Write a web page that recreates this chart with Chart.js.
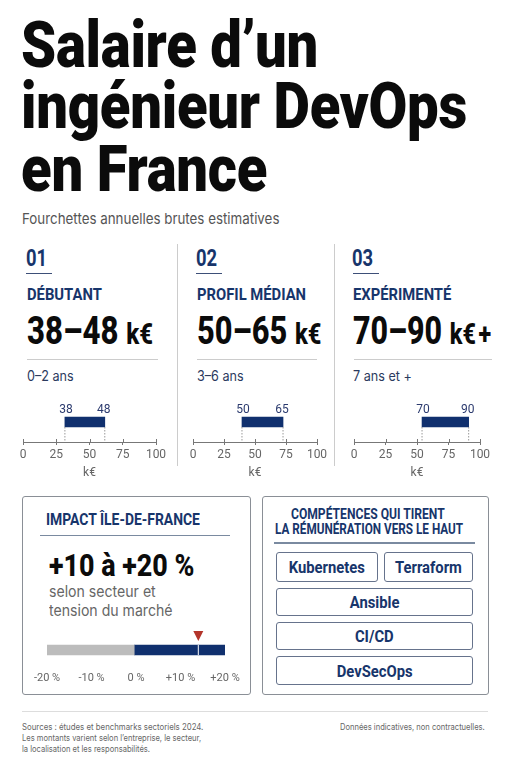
<!DOCTYPE html>
<html lang="fr">
<head>
<meta charset="utf-8">
<title>Salaire d'un ingénieur DevOps en France</title>
<script src="https://cdn.jsdelivr.net/npm/chart.js@4/dist/chart.umd.min.js"></script>
<style>
    html, body { margin: 0; padding: 0; background: #fff; }
    body { position: relative; width: 511px; height: 768px; overflow: hidden; font-family: Roboto, sans-serif; }
    .t { position: absolute; white-space: nowrap; transform-origin: left top; line-height: 1; }
    .titre { left: 21px; font-size: 64px; line-height: 58px; font-weight: 900; color: #0b0b0b; transform: scaleX(.879); letter-spacing: -.3px; }
    .sous { left: 22px; top: 211px; font-size: 15px; color: #555; font-family: Inter, Roboto, sans-serif; transform: scaleX(.89); }
    .num { font-size: 23px; font-weight: 700; color: #17356b; transform: scaleX(.8); }
    .niv { font-size: 17px; font-weight: 700; color: #17356b; transform: scaleX(.87); }
    .val { font-size: 39px; font-weight: 800; color: #0b0b0b; transform: scaleX(.8); }
    .val small { font-size: 30px; font-weight: 800; word-spacing: -4px; }
    .ans { font-size: 14px; color: #2b3a5e; font-family: Inter, Roboto, sans-serif; transform: scaleX(.9); }
    .trait { position: absolute; }
    .cadre { position: absolute; box-sizing: border-box; border: 1.5px solid #8a8f96; border-radius: 3px; top: 496px; height: 199px; }
    .pill { position: absolute; box-sizing: border-box; border: 1.5px solid #66738c; border-radius: 3px; display: flex; align-items: center; justify-content: center; }
    .pill span { font-size: 17px; font-weight: 700; color: #17356b; transform: scaleX(.87); white-space: nowrap; }
    .foot { font-size: 9px; color: #666; font-family: Inter, Roboto, sans-serif; transform: scaleX(.84); }
    .cap { font-size: 15.5px; color: #666; font-family: Inter, Roboto, sans-serif; transform: scaleX(.91); }
    canvas { position: absolute; }
</style>
</head>
<body>

<div class="t titre" style="top:17px">Salaire d’un</div>
<div class="t titre" style="top:78px">ingénieur DevOps</div>
<div class="t titre" style="top:141px">en France</div>
<div class="t sous">Fourchettes annuelles brutes estimatives</div>

<div class="trait" style="left:177px;top:244px;width:1px;height:222px;background:#ccc"></div>
<div class="trait" style="left:334px;top:244px;width:1px;height:222px;background:#ccc"></div>

<div class="t num" style="left:26px;top:247px">01</div>
<div class="trait" style="left:26px;top:273px;width:26px;height:1px;background:#3d4f78"></div>
<div class="t niv" style="left:27px;top:286px">DÉBUTANT</div>
<div class="t val" style="left:27px;top:312px">38–48 <small>k€</small></div>
<div class="trait" style="left:27px;top:359px;width:131px;height:1px;background:#ccc"></div>
<div class="t ans" style="left:27px;top:369px">0–2 ans</div>

<div class="t num" style="left:196px;top:247px">02</div>
<div class="trait" style="left:196px;top:273px;width:26px;height:1px;background:#3d4f78"></div>
<div class="t niv" style="left:197px;top:286px">PROFIL MÉDIAN</div>
<div class="t val" style="left:197px;top:312px;transform:scaleX(.79)">50–65 <small>k€</small></div>
<div class="trait" style="left:197px;top:359px;width:120px;height:1px;background:#ccc"></div>
<div class="t ans" style="left:197px;top:369px">3–6 ans</div>

<div class="t num" style="left:352px;top:247px">03</div>
<div class="trait" style="left:353px;top:273px;width:26px;height:1px;background:#3d4f78"></div>
<div class="t niv" style="left:353px;top:286px">EXPÉRIMENTÉ</div>
<div class="t val" style="left:353px;top:312px;transform:scaleX(.78)">70–90 <small>k€ +</small></div>
<div class="trait" style="left:354px;top:359px;width:138px;height:1px;background:#ccc"></div>
<div class="t ans" style="left:353px;top:369px">7 ans et +</div>

<canvas id="grafico1" width="163" height="78" style="left:8px;top:402px"></canvas>
<canvas id="grafico2" width="154" height="78" style="left:178px;top:402px"></canvas>
<canvas id="grafico3" width="156" height="78" style="left:339px;top:402px"></canvas>

<div class="cadre" style="left:22px;width:229px"></div>
<div class="t niv" style="left:46px;top:512px;font-size:16px">IMPACT ÎLE-DE-FRANCE</div>
<div class="trait" style="left:40px;top:535px;width:190px;height:1px;background:#7a8aa0"></div>
<div class="t val" style="left:49px;top:549px;font-size:32px;transform:scaleX(.84)">+10 à +20 %</div>
<div class="t cap" style="left:49px;top:584px">selon secteur et</div>
<div class="t cap" style="left:49px;top:603px">tension du marché</div>
<canvas id="graficoImpact" width="218" height="58" style="left:27px;top:625px"></canvas>

<div class="cadre" style="left:262px;width:227px"></div>
<div class="t niv" style="left:291px;top:508px;font-size:14.5px;line-height:14px;transform:scaleX(.835)">COMPÉTENCES QUI TIRENT</div>
<div class="t niv" style="left:275px;top:523px;font-size:14.5px;line-height:14px;transform:scaleX(.81)">LA RÉMUNÉRATION VERS LE HAUT</div>
<div class="trait" style="left:274px;top:542px;width:201px;height:2px;background:#7a8aa0"></div>
<div class="pill" style="left:276px;top:552px;width:102px;height:30px"><span>Kubernetes</span></div>
<div class="pill" style="left:384px;top:552px;width:89px;height:30px"><span>Terraform</span></div>
<div class="pill" style="left:276px;top:588px;width:197px;height:28px"><span>Ansible</span></div>
<div class="pill" style="left:276px;top:622px;width:197px;height:28px"><span>CI/CD</span></div>
<div class="pill" style="left:276px;top:656px;width:197px;height:29px"><span>DevSecOps</span></div>

<div class="trait" style="left:22px;top:711px;width:466px;height:1px;background:#ddd"></div>
<div class="t foot" style="left:22px;top:722px;transform:scaleX(.87)">Sources : études et benchmarks sectoriels 2024.</div>
<div class="t foot" style="left:22px;top:733px">Les montants varient selon l’entreprise, le secteur,</div>
<div class="t foot" style="left:22px;top:744px">la localisation et les responsabilités.</div>
<div class="t foot" style="left:340px;top:722px">Données indicatives, non contractuelles.</div>

<script>
// fourchettes affichées au-dessus des barres
const fourchettesDebut = [38, 50, 70];
const fourchettesFin = [48, 65, 90];

const barresDebut = [31.5, 39.5, 54];
const barresFin = [61.5, 72.6, 91];

const ticksSalaire = [0, 25, 50, 75, 100];
const uniteSalaire = "k€";

const impactCategorie = ["Impact"];
const impactNegatif = [-20, -0.4];
const impactPositif = [-0.4, 20];
const ticksImpact = [-20, -10, 0, 10, 20];
const impactMarqueur = 14;

const bleu = "#10306e";
const gris = "#666";
const policeAxe = "'Liberation Sans Narrow', Roboto, sans-serif";

Chart.defaults.font.family = policeAxe;
Chart.defaults.animation = false;

const marquesFourchette = {

    id: "marquesFourchette",

    afterDatasetsDraw(chart, args, opts) {

        const ctx = chart.ctx;
        const x = chart.scales.x;
        const bas = chart.chartArea.bottom;
        const bar = chart.getDatasetMeta(0).data[0];
        const haut = bar.y + bar.height / 2;

        ctx.save();

        ctx.strokeStyle = "#777";
        ctx.lineWidth = 1;

        ticksSalaire.forEach(t => {

            const px = Math.round(x.getPixelForValue(t)) + 0.5;

            ctx.beginPath();
            ctx.moveTo(px, bas - 3);
            ctx.lineTo(px, bas);
            ctx.stroke();
        });

        ctx.strokeStyle = "#999";
        ctx.setLineDash([1.5, 1.5]);

        [opts.debut, opts.fin].forEach(v => {

            const px = x.getPixelForValue(v);

            ctx.beginPath();
            ctx.moveTo(px, haut);
            ctx.lineTo(px, bas);
            ctx.stroke();
        });

        ctx.fillStyle = "#2b3a6e";
        ctx.font = "12px " + policeAxe;
        ctx.textAlign = "center";
        ctx.textBaseline = "alphabetic";

        ctx.fillText(opts.texteDebut, x.getPixelForValue(opts.debut) + 1, bar.y - 9);
        ctx.fillText(opts.texteFin, x.getPixelForValue(opts.fin) - 1, bar.y - 9);

        ctx.restore();
    }
};

const marqueurImpact = {

    id: "marqueurImpact",

    afterDatasetsDraw(chart) {

        const ctx = chart.ctx;
        const px = chart.scales.x.getPixelForValue(impactMarqueur);
        const bar = chart.getDatasetMeta(1).data[0];
        const haut = bar.y - bar.height / 2;
        const bas = bar.y + bar.height / 2;

        ctx.save();

        ctx.strokeStyle = "#fff";
        ctx.lineWidth = 1;
        ctx.beginPath();
        ctx.moveTo(px, haut);
        ctx.lineTo(px, bas);
        ctx.stroke();

        ctx.fillStyle = "#b3352b";
        ctx.beginPath();
        ctx.moveTo(px - 5, haut - 14);
        ctx.lineTo(px + 5, haut - 14);
        ctx.lineTo(px, haut - 4);
        ctx.closePath();
        ctx.fill();

        ctx.restore();
    }
};

function graficoSalaire(id, i) {

    const debut = barresDebut[i];
    const fin = barresFin[i];

    new Chart(document.getElementById(id), {

        type: "bar",

        data: {

            labels: [uniteSalaire],

            datasets: [{

                data: [[debut, fin]],

                backgroundColor: bleu,

                borderWidth: 0,

                barThickness: 10
            }]
        },

        options: {

            indexAxis: "y",

            responsive: false,

            layout: {

                padding: { left: 15, right: 15, top: 0, bottom: 0 }
            },

            plugins: {

                legend: { display: false },

                tooltip: { enabled: false },

                marquesFourchette: {

                    debut,

                    fin,

                    texteDebut: String(fourchettesDebut[i]),

                    texteFin: String(fourchettesFin[i])
                }
            },

            scales: {

                y: { display: false },

                x: {

                    min: ticksSalaire[0],

                    max: ticksSalaire[ticksSalaire.length - 1],

                    afterBuildTicks: s => {

                        s.ticks = ticksSalaire.map(value => ({ value }));
                    },

                    afterFit: s => {

                        s.height = 38;
                    },

                    border: { color: "#777" },

                    grid: {

                        drawOnChartArea: false,

                        tickLength: 3,

                        color: "#777"
                    },

                    ticks: {

                        color: gris,

                        padding: 3,

                        maxRotation: 0,

                        font: { size: 12 }
                    },

                    title: {

                        display: true,

                        text: uniteSalaire,

                        color: gris,

                        padding: { top: 4, bottom: 0 },

                        font: { size: 12 }
                    }
                }
            }
        },

        plugins: [marquesFourchette]
    });
}

function graficoImpact() {

    new Chart(document.getElementById("graficoImpact"), {

        type: "bar",

        data: {

            labels: impactCategorie,

            datasets: [
                {
                    data: [impactNegatif],

                    backgroundColor: "#bcbcbc",

                    borderWidth: 0,

                    barThickness: 10,

                    grouped: false
                },
                {
                    data: [impactPositif],

                    backgroundColor: bleu,

                    borderWidth: 0,

                    barThickness: 10,

                    grouped: false
                }
            ]
        },

        options: {

            indexAxis: "y",

            responsive: false,

            layout: {

                padding: { left: 20, right: 20, top: 12, bottom: 0 }
            },

            plugins: {

                legend: { display: false },

                tooltip: { enabled: false }
            },

            scales: {

                y: { display: false },

                x: {

                    min: ticksImpact[0],

                    max: ticksImpact[ticksImpact.length - 1],

                    afterBuildTicks: s => {

                        s.ticks = ticksImpact.map(value => ({ value }));
                    },

                    afterFit: s => {

                        s.height = 20;
                    },

                    border: { display: false },

                    grid: { display: false },

                    ticks: {

                        color: gris,

                        padding: 1,

                        maxRotation: 0,

                        font: { size: 11 },

                        callback: v =>
                            (v > 0 ? "+" : "") + v + " %"
                    }
                }
            }
        },

        plugins: [marqueurImpact]
    });
}

graficoSalaire("grafico1", 0);
graficoSalaire("grafico2", 1);
graficoSalaire("grafico3", 2);
graficoImpact();
</script>
</body>
</html>
